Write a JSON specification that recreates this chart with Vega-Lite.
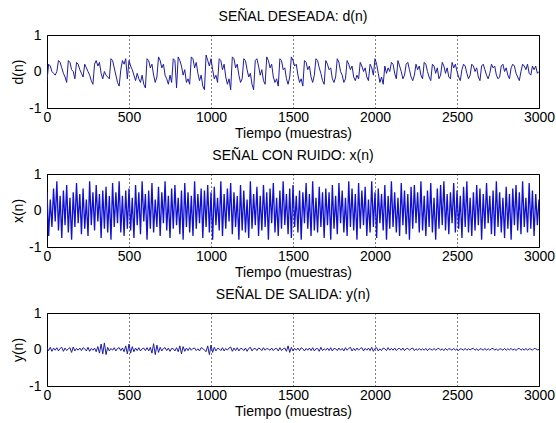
{
"$schema": "https://vega.github.io/schema/vega-lite/v6.json",
"padding": {"left": 11, "top": 9, "right": 10, "bottom": 5},
"background": "white",
"bounds": "flush",
"spacing": 66,
"config": {
  "view": {"stroke": "black", "strokeWidth": 1},
  "font": "Liberation Sans",
  "title": {"font": "Liberation Sans", "fontSize": 14, "fontWeight": "normal", "color": "black", "offset": 4, "anchor": "middle"},
  "axis": {"labelFont": "Liberation Sans", "labelFontSize": 14, "titleFont": "Liberation Sans", "titleFontSize": 14, "titleFontWeight": "normal", "labelColor": "black", "titleColor": "black", "domain": false, "ticks": false, "labelFlush": false, "labelOverlap": false, "labelBound": false},
  "axisX": {"grid": true, "gridColor": "black", "gridDash": [1, 3], "gridOpacity": 1, "gridWidth": 1, "labelPadding": 2, "titlePadding": 2},
  "axisY": {"grid": false, "labelPadding": 6, "titlePadding": 3}
},
"data": {"values": [
{"n":0,"d":-0.25,"x":0.5,"y":0.05},{"n":10,"d":0.2,"x":-0.7,"y":-0.03},{"n":20,"d":0.15,"x":0.3,"y":0.06},{"n":30,"d":0.0,"x":-0.45,"y":-0.05},{"n":40,"d":-0.05,"x":0.6,"y":0.04},{"n":50,"d":-0.1,"x":-0.3,"y":-0.02},{"n":60,"d":0.0,"x":0.8,"y":0.05},{"n":70,"d":0.3,"x":-0.55,"y":-0.04},{"n":80,"d":0.25,"x":0.4,"y":0.03},{"n":90,"d":0.1,"x":-0.75,"y":0.06},
{"n":100,"d":-0.05,"x":0.55,"y":-0.05},{"n":110,"d":-0.15,"x":-0.4,"y":0.04},{"n":120,"d":-0.3,"x":0.7,"y":-0.03},{"n":130,"d":0.3,"x":-0.6,"y":0.02},{"n":140,"d":0.25,"x":0.35,"y":0.05},{"n":150,"d":0.05,"x":-0.8,"y":-0.08},{"n":160,"d":0.0,"x":0.5,"y":0.07},{"n":170,"d":-0.2,"x":-0.45,"y":-0.04},{"n":180,"d":0.25,"x":0.75,"y":0.03},{"n":190,"d":0.2,"x":-0.35,"y":-0.02},
{"n":200,"d":0.05,"x":0.45,"y":0.04},{"n":210,"d":-0.05,"x":-0.65,"y":-0.03},{"n":220,"d":-0.15,"x":0.6,"y":0.05},{"n":230,"d":0.2,"x":-0.5,"y":0.02},{"n":240,"d":0.1,"x":0.3,"y":-0.04},{"n":250,"d":0.0,"x":-0.7,"y":0.06},{"n":260,"d":-0.1,"x":0.8,"y":-0.05},{"n":270,"d":-0.25,"x":-0.4,"y":0.03},{"n":280,"d":-0.35,"x":0.5,"y":-0.02},{"n":290,"d":0.2,"x":-0.55,"y":0.04},
{"n":300,"d":0.3,"x":0.7,"y":-0.06},{"n":310,"d":0.15,"x":-0.3,"y":0.08},{"n":320,"d":0.25,"x":0.45,"y":-0.1},{"n":330,"d":-0.05,"x":-0.75,"y":0.15},{"n":340,"d":-0.2,"x":0.55,"y":-0.12},{"n":350,"d":0.0,"x":-0.5,"y":0.18},{"n":360,"d":-0.1,"x":0.65,"y":-0.14},{"n":370,"d":-0.15,"x":-0.6,"y":0.06},{"n":380,"d":-0.2,"x":0.4,"y":-0.04},{"n":390,"d":0.35,"x":-0.8,"y":0.03},
{"n":400,"d":0.3,"x":0.75,"y":-0.02},{"n":410,"d":0.1,"x":-0.45,"y":0.05},{"n":420,"d":-0.1,"x":0.5,"y":-0.04},{"n":430,"d":-0.3,"x":-0.35,"y":0.03},{"n":440,"d":-0.4,"x":0.8,"y":0.05},{"n":450,"d":0.05,"x":-0.6,"y":-0.03},{"n":460,"d":0.3,"x":0.4,"y":0.04},{"n":470,"d":0.2,"x":-0.7,"y":-0.06},{"n":480,"d":0.35,"x":0.55,"y":0.1},{"n":490,"d":-0.2,"x":-0.5,"y":-0.12},
{"n":500,"d":0.3,"x":0.6,"y":0.15},{"n":510,"d":0.15,"x":-0.55,"y":-0.1},{"n":520,"d":0.05,"x":0.35,"y":0.08},{"n":530,"d":-0.1,"x":-0.75,"y":-0.06},{"n":540,"d":-0.25,"x":0.7,"y":0.04},{"n":550,"d":-0.05,"x":-0.4,"y":-0.03},{"n":560,"d":-0.2,"x":0.5,"y":0.05},{"n":570,"d":-0.3,"x":-0.65,"y":-0.04},{"n":580,"d":-0.1,"x":0.8,"y":0.02},{"n":590,"d":-0.35,"x":-0.3,"y":0.04},
{"n":600,"d":-0.45,"x":0.45,"y":-0.03},{"n":610,"d":0.35,"x":-0.8,"y":0.05},{"n":620,"d":0.3,"x":0.55,"y":-0.04},{"n":630,"d":0.1,"x":-0.5,"y":0.06},{"n":640,"d":0.2,"x":0.75,"y":-0.1},{"n":650,"d":-0.1,"x":-0.6,"y":0.16},{"n":660,"d":-0.3,"x":0.3,"y":-0.14},{"n":670,"d":-0.15,"x":-0.45,"y":0.12},{"n":680,"d":0.4,"x":0.65,"y":-0.08},{"n":690,"d":0.3,"x":-0.7,"y":0.06},
{"n":700,"d":0.1,"x":0.5,"y":-0.04},{"n":710,"d":0.2,"x":-0.35,"y":0.03},{"n":720,"d":-0.1,"x":0.8,"y":0.05},{"n":730,"d":-0.2,"x":-0.55,"y":-0.03},{"n":740,"d":-0.35,"x":0.4,"y":0.04},{"n":750,"d":-0.1,"x":-0.75,"y":-0.05},{"n":760,"d":-0.3,"x":0.6,"y":0.03},{"n":770,"d":0.35,"x":-0.5,"y":0.02},{"n":780,"d":0.3,"x":0.7,"y":-0.04},{"n":790,"d":-0.45,"x":-0.4,"y":0.05},
{"n":800,"d":0.4,"x":0.35,"y":-0.06},{"n":810,"d":0.3,"x":-0.65,"y":0.1},{"n":820,"d":0.15,"x":0.55,"y":-0.12},{"n":830,"d":-0.1,"x":-0.8,"y":0.08},{"n":840,"d":0.05,"x":0.75,"y":-0.05},{"n":850,"d":-0.3,"x":-0.45,"y":0.04},{"n":860,"d":-0.2,"x":0.5,"y":-0.03},{"n":870,"d":-0.35,"x":-0.6,"y":0.05},{"n":880,"d":0.4,"x":0.4,"y":-0.02},{"n":890,"d":0.35,"x":-0.7,"y":0.03},
{"n":900,"d":0.1,"x":0.8,"y":0.04},{"n":910,"d":0.25,"x":-0.5,"y":-0.03},{"n":920,"d":-0.05,"x":0.45,"y":0.02},{"n":930,"d":-0.25,"x":-0.35,"y":-0.04},{"n":940,"d":-0.1,"x":0.6,"y":0.05},{"n":950,"d":-0.4,"x":-0.75,"y":0.03},{"n":960,"d":-0.5,"x":0.55,"y":-0.02},{"n":970,"d":0.45,"x":-0.45,"y":-0.06},{"n":980,"d":0.3,"x":0.7,"y":0.1},{"n":990,"d":0.15,"x":-0.6,"y":-0.14},
{"n":1000,"d":0.35,"x":0.5,"y":0.12},{"n":1010,"d":0.05,"x":-0.8,"y":-0.08},{"n":1020,"d":-0.2,"x":0.65,"y":0.06},{"n":1030,"d":-0.1,"x":-0.4,"y":-0.04},{"n":1040,"d":-0.3,"x":0.35,"y":0.03},{"n":1050,"d":0.35,"x":-0.55,"y":0.02},{"n":1060,"d":0.3,"x":0.8,"y":-0.03},{"n":1070,"d":0.05,"x":-0.7,"y":0.05},{"n":1080,"d":0.2,"x":0.45,"y":-0.04},{"n":1090,"d":-0.15,"x":-0.5,"y":0.03},
{"n":1100,"d":-0.35,"x":0.6,"y":-0.02},{"n":1110,"d":-0.2,"x":-0.3,"y":0.04},{"n":1120,"d":-0.5,"x":0.75,"y":0.07},{"n":1130,"d":0.4,"x":-0.65,"y":-0.05},{"n":1140,"d":0.35,"x":0.5,"y":0.04},{"n":1150,"d":0.1,"x":-0.45,"y":-0.03},{"n":1160,"d":0.2,"x":0.4,"y":0.05},{"n":1170,"d":-0.1,"x":-0.8,"y":-0.04},{"n":1180,"d":-0.3,"x":0.7,"y":0.03},{"n":1190,"d":-0.2,"x":-0.55,"y":0.02},
{"n":1200,"d":0.35,"x":0.55,"y":-0.03},{"n":1210,"d":0.3,"x":-0.6,"y":0.04},{"n":1220,"d":0.05,"x":0.3,"y":-0.05},{"n":1230,"d":-0.15,"x":-0.75,"y":0.03},{"n":1240,"d":-0.05,"x":0.8,"y":0.06},{"n":1250,"d":-0.35,"x":-0.5,"y":-0.04},{"n":1260,"d":-0.5,"x":0.45,"y":0.02},{"n":1270,"d":0.3,"x":-0.4,"y":0.03},{"n":1280,"d":0.35,"x":0.65,"y":-0.03},{"n":1290,"d":0.15,"x":-0.7,"y":0.04},
{"n":1300,"d":-0.1,"x":0.4,"y":0.02},{"n":1310,"d":0.05,"x":-0.55,"y":-0.03},{"n":1320,"d":-0.25,"x":0.7,"y":0.05},{"n":1330,"d":-0.35,"x":-0.45,"y":-0.02},{"n":1340,"d":0.4,"x":0.5,"y":0.03},{"n":1350,"d":0.3,"x":-0.8,"y":0.01},{"n":1360,"d":0.1,"x":0.6,"y":-0.02},{"n":1370,"d":0.2,"x":-0.35,"y":0.04},{"n":1380,"d":-0.15,"x":0.75,"y":-0.03},{"n":1390,"d":-0.3,"x":-0.6,"y":0.02},
{"n":1400,"d":-0.2,"x":0.35,"y":0.03},{"n":1410,"d":-0.4,"x":-0.7,"y":-0.04},{"n":1420,"d":0.35,"x":0.55,"y":0.05},{"n":1430,"d":0.3,"x":-0.5,"y":-0.03},{"n":1440,"d":0.05,"x":0.8,"y":0.02},{"n":1450,"d":0.1,"x":-0.4,"y":0.04},{"n":1460,"d":-0.2,"x":0.45,"y":-0.05},{"n":1470,"d":-0.35,"x":-0.65,"y":0.1},{"n":1480,"d":-0.15,"x":0.6,"y":-0.08},{"n":1490,"d":0.4,"x":-0.75,"y":0.06},
{"n":1500,"d":0.3,"x":0.7,"y":-0.04},{"n":1510,"d":0.15,"x":-0.45,"y":0.03},{"n":1520,"d":0.2,"x":0.4,"y":-0.02},{"n":1530,"d":-0.1,"x":-0.6,"y":0.04},{"n":1540,"d":-0.3,"x":0.55,"y":-0.03},{"n":1550,"d":-0.2,"x":-0.8,"y":0.05},{"n":1560,"d":-0.4,"x":0.5,"y":0.02},{"n":1570,"d":0.3,"x":-0.35,"y":-0.04},{"n":1580,"d":0.25,"x":0.75,"y":0.03},{"n":1590,"d":0.05,"x":-0.5,"y":-0.02},
{"n":1600,"d":0.15,"x":0.45,"y":0.04},{"n":1610,"d":-0.15,"x":-0.7,"y":-0.03},{"n":1620,"d":-0.3,"x":0.8,"y":0.05},{"n":1630,"d":-0.1,"x":-0.55,"y":-0.04},{"n":1640,"d":0.35,"x":0.35,"y":0.02},{"n":1650,"d":0.3,"x":-0.6,"y":0.03},{"n":1660,"d":0.1,"x":0.65,"y":-0.05},{"n":1670,"d":-0.05,"x":-0.45,"y":0.06},{"n":1680,"d":-0.25,"x":0.5,"y":-0.03},{"n":1690,"d":-0.35,"x":-0.75,"y":0.02},
{"n":1700,"d":0.3,"x":0.6,"y":-0.02},{"n":1710,"d":0.2,"x":-0.4,"y":0.04},{"n":1720,"d":0.05,"x":0.5,"y":-0.03},{"n":1730,"d":0.1,"x":-0.8,"y":0.05},{"n":1740,"d":-0.2,"x":0.7,"y":-0.04},{"n":1750,"d":-0.3,"x":-0.5,"y":0.03},{"n":1760,"d":-0.15,"x":0.4,"y":0.02},{"n":1770,"d":0.35,"x":-0.65,"y":-0.03},{"n":1780,"d":0.25,"x":0.75,"y":0.04},{"n":1790,"d":0.0,"x":-0.35,"y":-0.02},
{"n":1800,"d":-0.1,"x":0.55,"y":0.03},{"n":1810,"d":-0.3,"x":-0.6,"y":-0.04},{"n":1820,"d":-0.2,"x":0.35,"y":0.05},{"n":1830,"d":0.3,"x":-0.7,"y":-0.02},{"n":1840,"d":0.2,"x":0.8,"y":0.03},{"n":1850,"d":0.05,"x":-0.45,"y":0.06},{"n":1860,"d":0.15,"x":0.6,"y":-0.04},{"n":1870,"d":-0.15,"x":-0.55,"y":0.03},{"n":1880,"d":-0.25,"x":0.45,"y":-0.03},{"n":1890,"d":-0.1,"x":-0.8,"y":0.04},
{"n":1900,"d":-0.2,"x":0.75,"y":-0.02},{"n":1910,"d":0.25,"x":-0.5,"y":0.03},{"n":1920,"d":0.15,"x":0.55,"y":0.05},{"n":1930,"d":0.0,"x":-0.4,"y":-0.04},{"n":1940,"d":0.1,"x":0.65,"y":0.03},{"n":1950,"d":-0.15,"x":-0.7,"y":-0.02},{"n":1960,"d":-0.25,"x":0.3,"y":0.04},{"n":1970,"d":0.2,"x":-0.6,"y":-0.03},{"n":1980,"d":0.1,"x":0.8,"y":0.06},{"n":1990,"d":-0.1,"x":-0.45,"y":-0.05},
{"n":2000,"d":0.35,"x":0.5,"y":0.03},{"n":2010,"d":0.2,"x":-0.75,"y":0.05},{"n":2020,"d":-0.05,"x":0.6,"y":-0.04},{"n":2030,"d":-0.3,"x":-0.35,"y":0.02},{"n":2040,"d":-0.15,"x":0.45,"y":-0.03},{"n":2050,"d":-0.35,"x":-0.55,"y":0.04},{"n":2060,"d":0.15,"x":0.7,"y":0.02},{"n":2070,"d":-0.05,"x":-0.8,"y":-0.03},{"n":2080,"d":0.1,"x":0.4,"y":0.05},{"n":2090,"d":0.0,"x":-0.5,"y":-0.02},
{"n":2100,"d":0.25,"x":0.8,"y":0.03},{"n":2110,"d":0.2,"x":-0.45,"y":-0.02},{"n":2120,"d":-0.05,"x":0.5,"y":0.04},{"n":2130,"d":-0.2,"x":-0.6,"y":-0.03},{"n":2140,"d":0.3,"x":0.35,"y":0.02},{"n":2150,"d":0.15,"x":-0.7,"y":0.03},{"n":2160,"d":0.0,"x":0.75,"y":-0.02},{"n":2170,"d":-0.2,"x":-0.4,"y":0.04},{"n":2180,"d":-0.1,"x":0.55,"y":-0.03},{"n":2190,"d":0.2,"x":-0.65,"y":0.02},
{"n":2200,"d":0.25,"x":0.45,"y":0.03},{"n":2210,"d":0.05,"x":-0.8,"y":-0.02},{"n":2220,"d":-0.15,"x":0.65,"y":0.02},{"n":2230,"d":-0.25,"x":-0.5,"y":0.04},{"n":2240,"d":-0.1,"x":0.7,"y":-0.03},{"n":2250,"d":0.2,"x":-0.35,"y":0.02},{"n":2260,"d":0.05,"x":0.5,"y":-0.02},{"n":2270,"d":0.15,"x":-0.6,"y":0.03},{"n":2280,"d":-0.1,"x":0.8,"y":-0.02},{"n":2290,"d":-0.2,"x":-0.55,"y":0.02},
{"n":2300,"d":0.25,"x":0.4,"y":-0.02},{"n":2310,"d":0.2,"x":-0.7,"y":0.03},{"n":2320,"d":0.0,"x":0.55,"y":-0.03},{"n":2330,"d":-0.15,"x":-0.45,"y":0.02},{"n":2340,"d":-0.25,"x":0.75,"y":0.01},{"n":2350,"d":0.2,"x":-0.6,"y":-0.02},{"n":2360,"d":0.15,"x":0.35,"y":0.03},{"n":2370,"d":-0.05,"x":-0.8,"y":-0.02},{"n":2380,"d":0.1,"x":0.6,"y":0.02},{"n":2390,"d":-0.2,"x":-0.5,"y":0.03},
{"n":2400,"d":-0.1,"x":0.7,"y":-0.02},{"n":2410,"d":0.25,"x":-0.4,"y":0.02},{"n":2420,"d":0.15,"x":0.8,"y":-0.03},{"n":2430,"d":-0.05,"x":-0.55,"y":0.03},{"n":2440,"d":0.1,"x":0.45,"y":-0.02},{"n":2450,"d":-0.15,"x":-0.65,"y":0.02},{"n":2460,"d":-0.2,"x":0.5,"y":0.01},{"n":2470,"d":0.25,"x":-0.35,"y":-0.02},{"n":2480,"d":0.1,"x":0.75,"y":0.03},{"n":2490,"d":0.2,"x":-0.6,"y":-0.02},
{"n":2500,"d":0.0,"x":0.55,"y":0.02},{"n":2510,"d":-0.15,"x":-0.5,"y":-0.03},{"n":2520,"d":-0.25,"x":0.4,"y":0.02},{"n":2530,"d":0.05,"x":-0.75,"y":0.01},{"n":2540,"d":0.2,"x":0.65,"y":-0.02},{"n":2550,"d":0.15,"x":-0.45,"y":0.03},{"n":2560,"d":-0.05,"x":0.8,"y":-0.02},{"n":2570,"d":-0.2,"x":-0.6,"y":0.02},{"n":2580,"d":-0.1,"x":0.35,"y":-0.01},{"n":2590,"d":0.2,"x":-0.7,"y":0.02},
{"n":2600,"d":0.15,"x":0.5,"y":0.03},{"n":2610,"d":0.0,"x":-0.55,"y":-0.02},{"n":2620,"d":0.1,"x":0.7,"y":0.02},{"n":2630,"d":-0.15,"x":-0.4,"y":-0.03},{"n":2640,"d":-0.25,"x":0.6,"y":0.02},{"n":2650,"d":0.15,"x":-0.8,"y":0.01},{"n":2660,"d":0.2,"x":0.45,"y":-0.02},{"n":2670,"d":0.05,"x":-0.5,"y":0.03},{"n":2680,"d":-0.1,"x":0.75,"y":-0.02},{"n":2690,"d":-0.2,"x":-0.35,"y":0.02},
{"n":2700,"d":-0.05,"x":0.4,"y":-0.02},{"n":2710,"d":0.2,"x":-0.65,"y":0.02},{"n":2720,"d":0.1,"x":0.55,"y":0.03},{"n":2730,"d":0.15,"x":-0.7,"y":-0.02},{"n":2740,"d":-0.1,"x":0.8,"y":0.02},{"n":2750,"d":-0.2,"x":-0.45,"y":-0.03},{"n":2760,"d":-0.15,"x":0.5,"y":0.02},{"n":2770,"d":0.15,"x":-0.6,"y":0.01},{"n":2780,"d":0.2,"x":0.35,"y":-0.02},{"n":2790,"d":0.0,"x":-0.75,"y":0.03},
{"n":2800,"d":0.1,"x":0.65,"y":-0.02},{"n":2810,"d":-0.1,"x":-0.5,"y":0.02},{"n":2820,"d":-0.2,"x":0.45,"y":-0.01},{"n":2830,"d":0.1,"x":-0.8,"y":0.03},{"n":2840,"d":0.2,"x":0.6,"y":-0.02},{"n":2850,"d":0.15,"x":-0.4,"y":0.02},{"n":2860,"d":-0.05,"x":0.7,"y":-0.03},{"n":2870,"d":-0.15,"x":-0.55,"y":0.02},{"n":2880,"d":-0.25,"x":0.5,"y":0.03},{"n":2890,"d":0.0,"x":-0.65,"y":-0.02},
{"n":2900,"d":0.2,"x":0.8,"y":0.02},{"n":2910,"d":0.15,"x":-0.45,"y":-0.02},{"n":2920,"d":0.05,"x":0.35,"y":0.03},{"n":2930,"d":0.2,"x":-0.6,"y":-0.02},{"n":2940,"d":-0.05,"x":0.75,"y":0.02},{"n":2950,"d":-0.1,"x":-0.5,"y":0.01},{"n":2960,"d":0.15,"x":0.55,"y":-0.02},{"n":2970,"d":0.05,"x":-0.7,"y":0.03},{"n":2980,"d":0.15,"x":0.45,"y":0.02},{"n":2990,"d":-0.05,"x":-0.4,"y":-0.01},
{"n":3000,"d":0.0,"x":0.3,"y":0.0}
]},
"vconcat": [
  {"width": 492, "height": 73, "title": "SEÑAL DESEADA: d(n)",
   "mark": {"type": "line", "color": "#1c1ca8", "strokeWidth": 1, "clip": true},
   "encoding": {
     "x": {"field": "n", "type": "quantitative", "scale": {"domain": [0, 3000], "nice": false}, "title": "Tiempo (muestras)", "axis": {"values": [0, 500, 1000, 1500, 2000, 2500, 3000], "format": "d"}},
     "y": {"field": "d", "type": "quantitative", "scale": {"domain": [-1, 1], "nice": false}, "title": "d(n)", "axis": {"values": [-1, 0, 1], "labelExpr": "datum.value < 0 ? '-1' : (datum.value > 0 ? '1' : '0')"}}}},
  {"width": 492, "height": 73, "title": "SEÑAL CON RUIDO: x(n)",
   "mark": {"type": "line", "color": "#1010d0", "strokeWidth": 1.3, "clip": true},
   "encoding": {
     "x": {"field": "n", "type": "quantitative", "scale": {"domain": [0, 3000], "nice": false}, "title": "Tiempo (muestras)", "axis": {"values": [0, 500, 1000, 1500, 2000, 2500, 3000], "format": "d"}},
     "y": {"field": "x", "type": "quantitative", "scale": {"domain": [-1, 1], "nice": false}, "title": "x(n)", "axis": {"values": [-1, 0, 1], "labelExpr": "datum.value < 0 ? '-1' : (datum.value > 0 ? '1' : '0')"}}}},
  {"width": 492, "height": 73, "title": "SEÑAL DE SALIDA: y(n)",
   "mark": {"type": "line", "color": "#1c1ca8", "strokeWidth": 1, "clip": true},
   "encoding": {
     "x": {"field": "n", "type": "quantitative", "scale": {"domain": [0, 3000], "nice": false}, "title": "Tiempo (muestras)", "axis": {"values": [0, 500, 1000, 1500, 2000, 2500, 3000], "format": "d"}},
     "y": {"field": "y", "type": "quantitative", "scale": {"domain": [-1, 1], "nice": false}, "title": "y(n)", "axis": {"values": [-1, 0, 1], "labelExpr": "datum.value < 0 ? '-1' : (datum.value > 0 ? '1' : '0')"}}}}
]
}
